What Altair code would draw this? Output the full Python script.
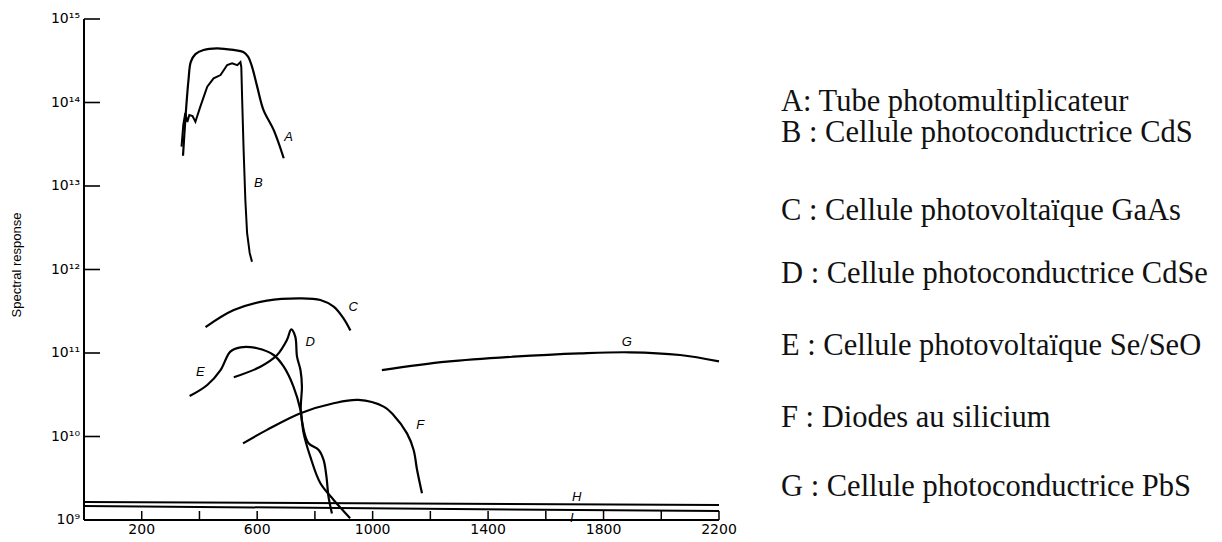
import altair as alt
import pandas as pd

# ---------------- data ----------------
A_WL = [343, 351, 362, 370, 386, 414, 461, 518, 552, 569, 582, 600, 622, 657, 692]
A_RESP = [2.3e13, 6.2e13, 1.86e14, 3.06e14, 3.8e14, 4.26e14, 4.46e14, 4.26e14,
          4.03e14, 3.51e14, 2.69e14, 1.55e14, 8.1e13, 4.7e13, 2.15e13]

B_WL = [338, 344, 351, 358, 365, 376, 386, 403, 427, 449, 473, 496, 513, 531, 542,
        545, 548, 553, 559, 565, 574, 582]
B_RESP = [2.96e13, 5.38e13, 7.48e13, 5.83e13, 7.08e13, 6.89e13, 5.89e13, 8.91e13,
          1.55e14, 1.95e14, 2.13e14, 2.81e14, 2.94e14, 2.8e14, 3.05e14,
          2.66e14, 1.07e14, 2.7e13, 6.79e12, 2.74e12, 1.58e12, 1.24e12]

C_WL = [421, 519, 634, 750, 819, 865, 899, 923]
C_RESP = [2.04e11, 3.27e11, 4.24e11, 4.52e11, 4.32e11, 3.59e11, 2.6e11, 1.86e11]

D_WL = [519, 611, 669, 703, 718, 732, 738, 750, 755, 751, 761, 778, 813, 830, 840, 847, 859]
D_RESP = [5.12e10, 6.85e10, 9.46e10, 1.43e11, 1.92e11, 1.57e11, 9.04e10, 6.25e10,
          3.95e10, 2.09e10, 1.2e10, 8.3e9, 6.89e9, 5.24e9, 3.3e9, 1.91e9, 1.2e9]

E_WL = [366, 427, 473, 507, 542, 600, 657, 692, 726, 750, 761, 784, 819, 865, 922]
E_RESP = [3.05e10, 4.14e10, 6.25e10, 1.04e11, 1.17e11, 1.14e11, 9.46e10, 6.85e10,
          3.94e10, 2.07e10, 1.09e10, 5.73e9, 2.75e9, 1.74e9, 1.05e9]

F_WL = [551, 634, 750, 865, 951, 1038, 1072, 1119, 1142, 1154, 1171]
F_RESP = [8.28e9, 1.2e10, 1.9e10, 2.5e10, 2.74e10, 2.28e10, 1.81e10, 1.09e10,
          6.89e9, 3.97e9, 2.09e9]

G_WL = [1032, 1257, 1488, 1719, 1892, 2065, 2200]
G_RESP = [6.25e10, 7.87e10, 9.04e10, 9.91e10, 1.02e11, 9.46e10, 7.94e10]

H_WL = [0, 2200]
H_RESP = [1.64e9, 1.51e9]

I_WL = [0, 2200]
I_RESP = [1.47e9, 1.28e9]

LABEL_NAMES = ["A", "B", "C", "D", "E", "F", "G", "H", "I"]
LABEL_WL = [709, 604, 933, 784, 403, 1165, 1881, 1707, 1690]
LABEL_RESP = [3.9e13, 1.09e13, 3.59e11, 1.36e11, 5.97e10, 1.37e10, 1.36e11, 1.9e9, 1.05e9]

X_TICKS = [200, 400, 600, 800, 1000, 1200, 1400, 1600, 1800, 2000, 2200]
X_LABELS = [200, 600, 1000, 1400, 1800, 2200]
Y_TICKS = [1e9, 1e10, 1e11, 1e12, 1e13, 1e14, 1e15]
Y_TICK_TEXT = ["10⁹", "10¹⁰", "10¹¹", "10¹²", "10¹³", "10¹⁴", "10¹⁵"]
Y_TITLE = "Spectral response"

LEGEND = [
    "A: Tube photomultiplicateur",
    "B : Cellule photoconductrice CdS",
    "C : Cellule photovoltaïque GaAs",
    "D : Cellule photoconductrice CdSe",
    "E : Cellule photovoltaïque Se/SeO",
    "F : Diodes au silicium",
    "G : Cellule photoconductrice PbS",
]

# ---------------- build tables ----------------
SMOOTH = {"A": (A_WL, A_RESP), "C": (C_WL, C_RESP), "D": (D_WL, D_RESP),
          "E": (E_WL, E_RESP), "F": (F_WL, F_RESP), "G": (G_WL, G_RESP)}
SHARP = {"B": (B_WL, B_RESP), "H": (H_WL, H_RESP), "I": (I_WL, I_RESP)}


def table(curves):
    rows = []
    for name, (wl, resp) in curves.items():
        for i, (w, r) in enumerate(zip(wl, resp)):
            rows.append({"curve": name, "wl": float(w), "resp": float(r), "seq": i})
    return pd.DataFrame(rows)


smooth_df = table(SMOOTH)
sharp_df = table(SHARP)
labels_df = pd.DataFrame({"name": LABEL_NAMES, "wl": LABEL_WL, "resp": LABEL_RESP})

# ---------------- layout ----------------
W, H = 635, 501
xscale = alt.Scale(domain=[0, 2200], nice=False, zero=False)
yscale = alt.Scale(type="log", domain=[1e9, 1e15], nice=False)


def X(field="wl:Q"):
    return alt.X(field, scale=xscale, axis=None)


def Y(field="resp:Q"):
    return alt.Y(field, scale=yscale, axis=None)


smooth_lines = alt.Chart(smooth_df).mark_line(
    color="black", strokeWidth=2.2, interpolate="catmull-rom"
).encode(x=X(), y=Y(), detail="curve:N", order="seq:Q")

sharp_lines = alt.Chart(sharp_df).mark_line(color="black", strokeWidth=2).encode(
    x=X(), y=Y(), detail="curve:N", order="seq:Q"
)

# axis lines (drawn as marks so that the ticks can point inward)
y_axis_line = alt.Chart(pd.DataFrame({"k": [0]})).mark_rule(color="black", strokeWidth=2).encode(
    x=alt.value(0), y=alt.value(0), y2=alt.value(H)
)
x_axis_line = alt.Chart(pd.DataFrame({"k": [0]})).mark_rule(color="black", strokeWidth=2).encode(
    x=alt.value(0), x2=alt.value(W), y=alt.value(H)
)

x_ticks = alt.Chart(pd.DataFrame({"wl": X_TICKS})).mark_rule(color="black", strokeWidth=1.5).encode(
    x=X(), y=alt.value(H - 9), y2=alt.value(H)
)

y_ticks = alt.Chart(pd.DataFrame({"resp": Y_TICKS})).mark_rule(color="black", strokeWidth=1.6).encode(
    y=Y(), x=alt.value(0), x2=alt.value(16)
)

x_labels = alt.Chart(pd.DataFrame({"wl": X_LABELS})).mark_text(
    font="DejaVu Sans", fontSize=14, color="black", baseline="top", align="center"
).encode(x=X(), y=alt.value(H + 3), text=alt.Text("wl:Q", format="d"))

y_labels = alt.Chart(pd.DataFrame({"resp": Y_TICKS, "lab": Y_TICK_TEXT})).mark_text(
    font="DejaVu Sans", fontSize=14, color="black", baseline="middle", align="right"
).encode(y=Y(), x=alt.value(-4), text="lab:N")

y_title = alt.Chart(pd.DataFrame({"t": [Y_TITLE]})).mark_text(
    font="Liberation Sans Narrow, Liberation Sans", fontSize=13, color="black",
    angle=270, align="center", baseline="middle"
).encode(x=alt.value(-67), y=alt.value(246), text="t:N")

curve_labels = alt.Chart(labels_df).mark_text(
    font="Liberation Sans", fontStyle="italic", fontSize=13, color="black"
).encode(x=X(), y=Y(), text="name:N")

LEGEND_X = 697
LEGEND_Y = [92, 123, 201, 264, 336, 408, 477]
legend_layers = []
for txt, yy in zip(LEGEND, LEGEND_Y):
    legend_layers.append(
        alt.Chart(pd.DataFrame({"t": [txt]})).mark_text(
            align="left", baseline="alphabetic", font="Liberation Serif",
            fontSize=30.5, color="#111"
        ).encode(x=alt.value(LEGEND_X), y=alt.value(yy), text="t:N")
    )

chart = alt.layer(
    smooth_lines, sharp_lines, y_axis_line, x_axis_line, x_ticks, y_ticks,
    x_labels, y_labels, y_title, curve_labels, *legend_layers
).properties(
    width=W, height=H,
    padding={"left": 76, "top": 11, "right": 495, "bottom": 16},
    autosize=alt.AutoSizeParams(type="none"),
    background="white",
).configure_view(stroke=None)

chart.save("out.html", embed_options={"renderer": "svg", "actions": False})
